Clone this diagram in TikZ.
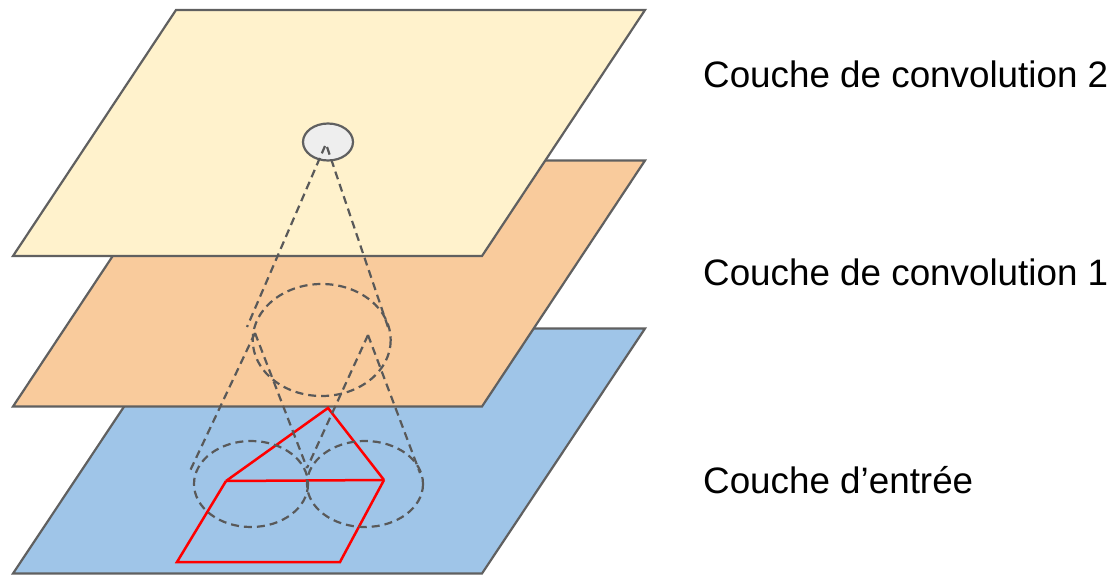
\documentclass[tikz,border=0pt]{standalone}
\usepackage{fontspec}
\setmainfont{Liberation Sans}
\usetikzlibrary{shapes.geometric}
\definecolor{yel}{HTML}{FFF2CC}
\definecolor{ora}{HTML}{F9CB9C}
\definecolor{blu}{HTML}{9FC5E8}
\definecolor{edge}{HTML}{606060}
\definecolor{dsh}{HTML}{595959}
\definecolor{pt}{HTML}{EEEEEE}
\begin{document}
\begin{tikzpicture}[x=1pt,y=-1pt,
  plane/.style={draw=edge,line width=2.2pt,line join=miter},
  cone/.style={draw=dsh,line width=2.2pt,dash pattern=on 8pt off 5pt},
  redline/.style={draw=red,line width=2.5pt},
  lbl/.style={anchor=base west,inner sep=0pt,font=\fontsize{36.8}{40}\selectfont}]
\useasboundingbox (0,0) rectangle (1116,575);
% planes
\path[plane,fill=blu] (176,328.5) -- (645,328.5) -- (482,573.5) -- (13,573.5) -- cycle;
\path[plane,fill=ora] (176,160.5) -- (645,160.5) -- (482,406.5) -- (13,406.5) -- cycle;
\path[plane,fill=yel] (176,10) -- (645,10) -- (482,256) -- (13,256) -- cycle;
% red shape
\coordinate (rA) at (328,408);
\coordinate (rB) at (226,481);
\coordinate (rC) at (384,480);
\coordinate (rD) at (340,562);
\coordinate (rE) at (177,562);
\draw[redline] (rB) -- (rA) -- (rC);
\draw[redline] (rB) -- (rC);
\draw[redline] (rB) -- (rE) -- (rD) -- (rC);
% top neuron
\node[ellipse,draw=edge,fill=pt,line width=2.2pt,minimum width=50pt,minimum height=37pt,inner sep=0pt] (top) at (328,142) {};
% middle circle
\draw[cone] (321.7,340) ellipse [x radius=69,y radius=56];
% bottom circles
\draw[cone] (251,484) ellipse [x radius=57,y radius=43];
\draw[cone] (365,484) ellipse [x radius=58,y radius=43];
% cone lines
\coordinate (t1) at (325,146);
\coordinate (t2) at (327,147);
\coordinate (m1) at (247,327);
\coordinate (m2) at (389,330);
\coordinate (a1) at (255,333);
\coordinate (a2) at (368,335);
\coordinate (b1) at (189,473);
\coordinate (b2) at (307,468);
\coordinate (b3) at (420,473);
\draw[cone] (t1) -- (m1);
\draw[cone] (t2) -- (m2);
\draw[cone] (a1) -- (b1);
\draw[cone] (a1) -- (b2);
\draw[cone] (a2) -- (b2);
\draw[cone] (a2) -- (b3);
% labels
\node[lbl] (l2) at (703,88) {Couche de convolution 2};
\node[lbl] (l1) at (703,285) {Couche de convolution 1};
\node[lbl] (l0) at (703,493) {Couche d’entrée};
\end{tikzpicture}
\end{document}
